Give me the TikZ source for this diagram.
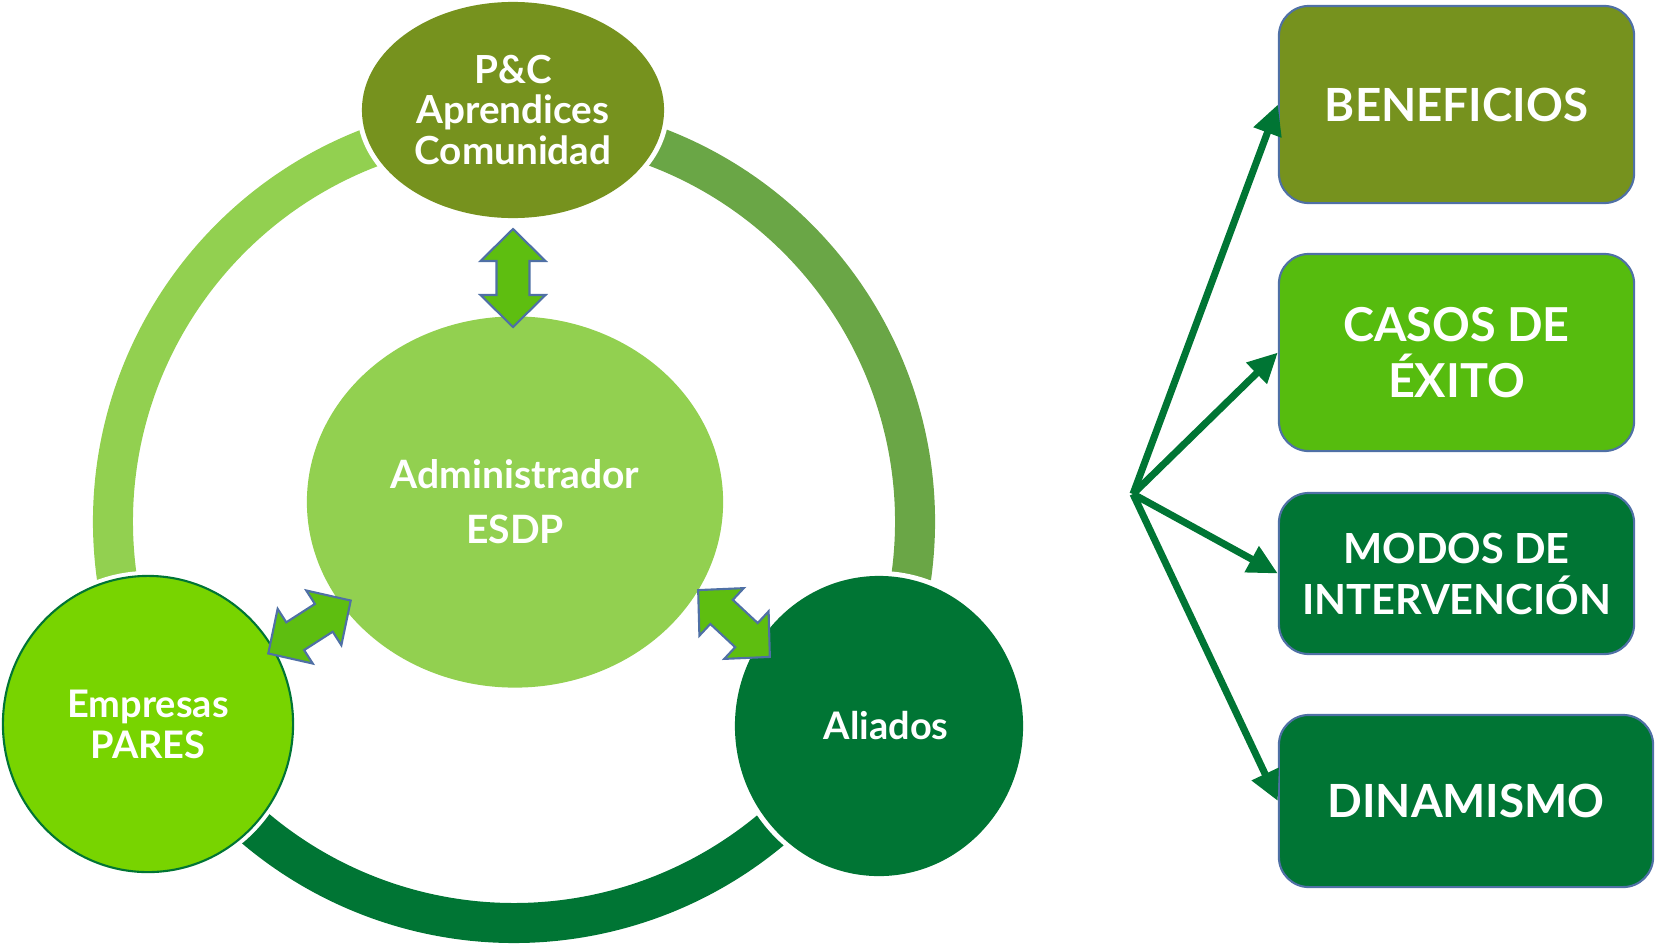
\documentclass[tikz,border=0pt]{standalone}
\usepackage{fontspec}
\setmainfont{Lato}
\usepackage{tikz}
\usetikzlibrary{shapes.geometric, arrows.meta}

\definecolor{olive}{RGB}{118,146,30}
\definecolor{lightgreen}{RGB}{146,208,80}
\definecolor{midgreen}{RGB}{106,166,70}
\definecolor{darkgreen}{RGB}{0,117,52}
\definecolor{brightgreen}{RGB}{120,212,0}
\definecolor{casegreen}{RGB}{86,188,14}
\definecolor{arrowgreen}{RGB}{94,190,16}
\definecolor{steel}{RGB}{79,112,165}

\tikzset{
    ring/.style={line width=0.4cm},
    halo/.style={preaction={draw=white, line width=0.1cm}},
    bubble/.style={ellipse, text=white, align=center, inner sep=0pt},
    card/.style={rectangle, rounded corners=0.3cm, draw=steel, line width=0.6pt, text=white, align=center,
        minimum width=3.55cm},
    fanarrow/.style={draw=darkgreen, line width=2pt, -{Triangle[length=8.5pt, width=8pt]}},
    blockarrow/.style={fill=arrowgreen, draw=steel, line width=0.6pt, line join=miter},
    dblarrow/.pic={
        \draw[blockarrow] (-49,0) -- (-17,32.5) -- (-17,16.5) -- (17,16.5) -- (17,32.5) -- (49,0)
            -- (17,-32.5) -- (17,-16.5) -- (-17,-16.5) -- (-17,-32.5) -- cycle;
    }
}

\begin{document}
\begin{tikzpicture}[x=0.01cm, y=0.01cm]
                    \useasboundingbox (0,0) rectangle (1655,944);

                    \draw[ring, color=lightgreen] (514,422) ++(100:401) arc (100:188:401);
                    \draw[ring, color=midgreen] (514,422) ++(80:401) arc (80:-8:401);
                    \draw[ring, color=darkgreen] (514,422) ++(222:401) arc (222:318:401);

                    \node[bubble, halo, fill=olive, minimum width=3.02cm, minimum height=2.16cm,
                        font=\bfseries\fontsize{11}{11.6}\selectfont] (pc) at (513,834) {P\&C\\Aprendices\\Comunidad};
                    \node[bubble, fill=lightgreen, minimum width=4.16cm, minimum height=3.71cm,
                        font=\bfseries\fontsize{11.1}{15.6}\selectfont] (admin) at (515,442) {Administrador\\ESDP};
                    \node[bubble, halo, fill=brightgreen, draw=darkgreen, line width=0.6pt, minimum width=2.90cm, minimum height=2.96cm,
                        font=\bfseries\fontsize{10.8}{11.7}\selectfont] (empresas) at (148,220) {Empresas\\PARES};
                    \node[bubble, halo, fill=darkgreen, minimum width=2.88cm, minimum height=3.00cm,
                        font=\bfseries\fontsize{10.8}{11.7}\selectfont] (aliados) at (879,218) {\hspace*{0.14cm}Aliados};

                    \pic[rotate=90] at (513,666) {dblarrow};
                    \pic[rotate=32.7] at (309.5,317) {dblarrow};
                    \pic[rotate=-43] at (734,320.5) {dblarrow};

                    \node[card, fill=olive, minimum height=1.97cm,
                        font=\bfseries\fontsize{13}{16}\selectfont] (benef) at (1456.5,839.5) {BENEFICIOS};
                    \node[card, fill=casegreen, minimum height=1.97cm,
                        font=\bfseries\fontsize{13.3}{16}\selectfont] (casos) at (1456.5,591.5) {CASOS DE\\ÉXITO};
                    \node[card, fill=darkgreen, minimum height=1.61cm,
                        font=\bfseries\fontsize{11.8}{14.5}\selectfont] (modos) at (1456.5,370.5) {MODOS DE\\INTERVENCIÓN};
                    \node[card, fill=darkgreen, minimum width=3.74cm, minimum height=1.72cm,
                        font=\bfseries\fontsize{13}{16}\selectfont] (dinam) at (1466,143) {DINAMISMO};

                    \coordinate (fan) at (1133,450);
                    \draw[fanarrow] (fan) -- (benef.west);
                    \draw[fanarrow] (fan) -- (casos.west);
                    \draw[fanarrow] (fan) -- (modos.west);
                    \draw[fanarrow] (fan) -- (dinam.west);
                \end{tikzpicture}
\end{document}
